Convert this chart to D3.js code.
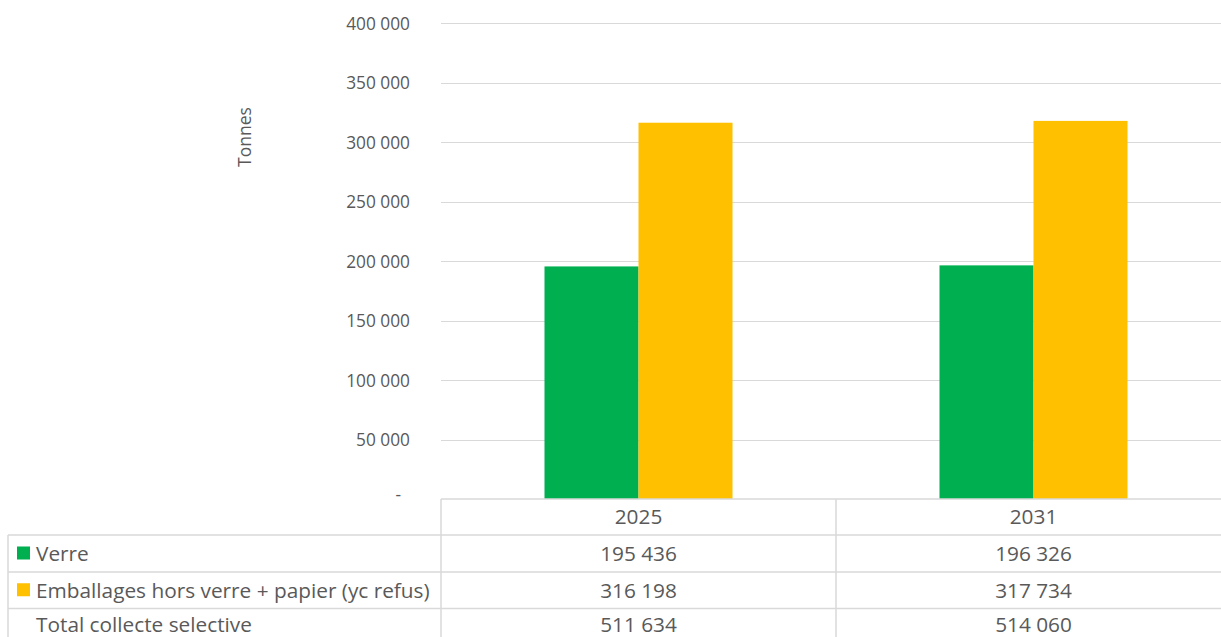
<!DOCTYPE html>
<html>
<head>
<meta charset="utf-8">
<script src="https://cdn.jsdelivr.net/npm/d3@7"></script>
<style>
  html, body { margin: 0; padding: 0; background: #fff; }
  svg { display: block; }
  text { font-family: "Open Sans", "Noto Sans", sans-serif; fill: #595959; }
</style>
</head>
<body>
<svg id="chart" width="1221" height="637"></svg>
<script>
// Collected tonnages per year
const years = ["2025", "2031"];
const seriesNames = ["Verre", "Emballages hors verre + papier (yc refus)"];
const seriesColors = ["#00B050", "#FFC000"];
const verre = [195436, 196326];
const emballages = [316198, 317734];
const totalLabel = "Total collecte selective";
const totals = [511634, 514060];
const yTicks = [0, 50000, 100000, 150000, 200000, 250000, 300000, 350000, 400000];

const series = [verre, emballages];
const fmt = v => v === 0 ? "-" : d3.format(",")(v).replace(/,/g, " ");

const svg = d3.select("#chart");
const W = 1221, H = 637;
const plot = { left: 441, right: 1231, top: 23, bottom: 499 };
const tableLeft = 8;
const rowLines = [499, 535, 572, 608.5, 645];
const gridColor = "#D9D9D9";

const x = d3.scaleBand().domain(years).range([plot.left, plot.right]).padding(0);
const y = d3.scaleLinear().domain([0, 400000]).range([plot.bottom, plot.top]);

// bar width relative to the category band (gap width ~220%)
const barW = x.bandwidth() * 0.238;
const xs = d3.scaleBand().domain(d3.range(series.length))
  .range([-barW, barW]).padding(0);

// horizontal gridlines
svg.append("g")
  .selectAll("line")
  .data(yTicks.filter(t => t > 0))
  .join("line")
  .attr("x1", plot.left).attr("x2", plot.right)
  .attr("y1", d => Math.round(y(d)) + 0.5).attr("y2", d => Math.round(y(d)) + 0.5)
  .attr("stroke", gridColor).attr("stroke-width", 1);

// y axis tick labels
const yAxis = d3.axisLeft(y).tickValues(yTicks).tickFormat(fmt).tickSize(0).tickPadding(0);
const gy = svg.append("g").attr("transform", `translate(410,0)`).call(yAxis);
gy.select(".domain").remove();
gy.selectAll("text")
  .attr("font-size", 17.3)
  .attr("font-family", "Open Sans, Noto Sans, sans-serif")
  .attr("fill", "#595959")
  .attr("dy", "0.35em");
gy.selectAll(".tick").filter(d => d === 0).select("text").attr("dx", -9).attr("dy", "0.1em");

// axis title
svg.append("text")
  .attr("transform", `translate(251,137) rotate(-90)`)
  .attr("text-anchor", "middle")
  .attr("font-size", 17.5)
  .text("Tonnes");

// bars
const gBars = svg.append("g");
series.forEach((vals, si) => {
  gBars.selectAll(null)
    .data(years.map((yr, i) => ({ yr, v: vals[i] })))
    .join("rect")
    .attr("x", d => x(d.yr) + x.bandwidth() / 2 + xs(si))
    .attr("y", d => y(d.v))
    .attr("width", xs.bandwidth())
    .attr("height", d => y(0) - y(d.v))
    .attr("fill", seriesColors[si]);
});

// data table
const gT = svg.append("g").attr("stroke", gridColor).attr("stroke-width", 1.5).attr("fill", "none");
// top border (category axis)
gT.append("line").attr("x1", plot.left).attr("x2", plot.right)
  .attr("y1", rowLines[0]).attr("y2", rowLines[0]);
// row separators spanning label column
rowLines.slice(1).forEach(ry => {
  gT.append("line").attr("x1", tableLeft).attr("x2", plot.right).attr("y1", ry).attr("y2", ry);
});
// vertical borders
gT.append("line").attr("x1", tableLeft).attr("x2", tableLeft).attr("y1", rowLines[1]).attr("y2", H + 10);
years.forEach(yr => {
  gT.append("line").attr("x1", x(yr)).attr("x2", x(yr)).attr("y1", rowLines[0]).attr("y2", H + 10);
});
gT.append("line").attr("x1", plot.right).attr("x2", plot.right).attr("y1", rowLines[0]).attr("y2", H + 10);

// the last row is partly below the visible area; keep its text inside
const rowMid = i => Math.min((rowLines[i] + rowLines[i + 1]) / 2, H - 12.5);
const fs = 20.8;

// header: years
svg.append("g").selectAll("text").data(years).join("text")
  .attr("x", d => x(d) + x.bandwidth() / 2)
  .attr("y", rowMid(0)).attr("dy", "0.35em")
  .attr("text-anchor", "middle").attr("font-size", fs)
  .text(d => d);

// series rows with legend keys
const rows = seriesNames.map((n, i) => ({ name: n, color: seriesColors[i], vals: series[i] }))
  .concat([{ name: totalLabel, color: null, vals: totals }]);

rows.forEach((r, ri) => {
  const cy = rowMid(ri + 1);
  if (r.color) {
    svg.append("rect").attr("x", 17).attr("y", cy - 7).attr("width", 13).attr("height", 13)
      .attr("fill", r.color);
  }
  svg.append("text").attr("x", 36).attr("y", cy).attr("dy", "0.35em")
    .attr("font-size", fs).text(r.name);
  svg.append("g").selectAll("text").data(years).join("text")
    .attr("x", d => x(d) + x.bandwidth() / 2)
    .attr("y", cy).attr("dy", "0.35em")
    .attr("text-anchor", "middle").attr("font-size", fs)
    .text((d, i) => fmt(r.vals[i]));
});
</script>
</body>
</html>
